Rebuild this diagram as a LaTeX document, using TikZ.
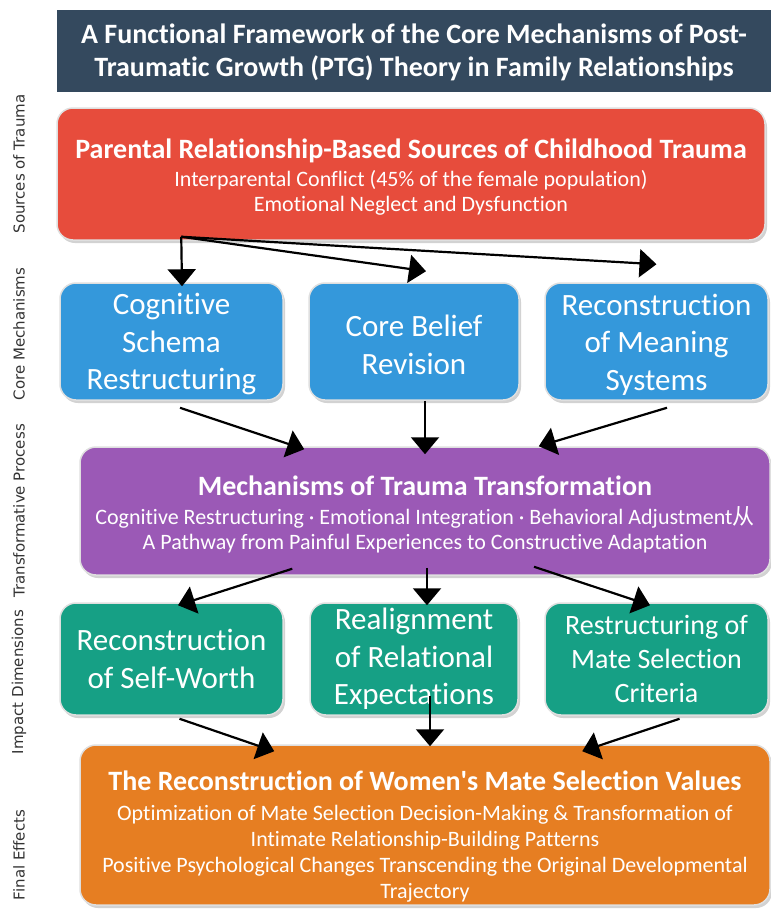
\documentclass[tikz,border=0pt]{standalone}
\usepackage{fontspec}
\setmainfont{Carlito}[Ligatures=NoCommon]
\newfontfamily\sidefont{DejaVu Sans}
\newfontfamily\cjk{Noto Sans CJK SC}
\usetikzlibrary{calc,shadows,arrows.meta}
\definecolor{ctitle}{HTML}{34495E}
\definecolor{cred}{HTML}{E74C3C}
\definecolor{cblue}{HTML}{3498DB}
\definecolor{cpurple}{HTML}{9B59B6}
\definecolor{cgreen}{HTML}{16A085}
\definecolor{corange}{HTML}{E67E22}
\newcommand{\hd}[1]{{\bfseries\fontsize{28}{30}\selectfont #1}}
\newcommand{\strt}[1]{\rule{0pt}{#1}}
\begin{document}
\begin{tikzpicture}[x=1pt,y=-1pt,
  box/.style={rounded corners=16pt, draw=gray!25, line width=1.5pt, text=white, align=center, inner sep=0pt,
    drop shadow={shadow xshift=2pt, shadow yshift=-3pt, opacity=0.35}},
  big/.style={box, font=\fontsize{22}{25}\selectfont},
  small/.style={box, minimum width=223pt, minimum height=117pt, font=\fontsize{31}{37.5}\selectfont},
  side/.style={rotate=90, font=\sidefont\fontsize{15}{17}\selectfont, text=black!80},
  arr/.style={line width=2.2pt, -{Triangle[length=17pt,width=28pt]}},
]
\useasboundingbox (0,0) rectangle (771,916);
\fill[white] (0,0) rectangle (771,916);

\node[fill=ctitle, text=white, minimum width=714pt, minimum height=82pt, inner sep=0pt, align=center,
  font=\bfseries\fontsize{28}{33}\selectfont] (title) at (414,51)
  {\strt{23pt}A Functional Framework of the Core Mechanisms of Post-\\Traumatic Growth (PTG) Theory in Family Relationships};

\node[big, fill=cred, minimum width=708pt, minimum height=132pt] (red) at (411,174)
  {\strt{25pt}\hd{Parental Relationship-Based Sources of Childhood Trauma}\\[3pt]
   Interparental Conflict (45\% of the female population)\\
   Emotional Neglect and Dysfunction};

\node[small, fill=cblue] (blue1) at (171.5,341.5) {\strt{27pt}Cognitive\\Schema\\Restructuring};
\node[small, fill=cblue, minimum width=210pt] (blue2) at (414,341.5) {\strt{28pt}Core Belief\\Revision};
\node[small, fill=cblue] (blue3) at (656.5,341.5) {\strt{27pt}Reconstruction\\of Meaning\\Systems};

\node[big, fill=cpurple, minimum width=690pt, minimum height=128pt] (purple) at (425,511)
  {\strt{27pt}\hd{Mechanisms of Trauma Transformation}\\[4pt]
   Cognitive Restructuring · Emotional Integration · Behavioral Adjustment{\cjk 从}\\
   A Pathway from Painful Experiences to Constructive Adaptation};

\node[small, fill=cgreen, minimum height=112pt] (green1) at (171.5,659) {Reconstruction\\of Self-Worth};
\node[small, fill=cgreen, minimum height=112pt, minimum width=208pt] (green2) at (414,659) {Realignment\\of Relational\\Expectations};
\node[small, fill=cgreen, minimum height=112pt, font=\fontsize{28}{34}\selectfont] (green3) at (656.5,659) {Restructuring of\\Mate Selection\\Criteria};

\node[big, fill=corange, minimum width=690pt, minimum height=160pt, font=\fontsize{22}{26}\selectfont] (orange) at (425,825)
  {\strt{42pt}\hd{The Reconstruction of Women\textquotesingle s Mate Selection Values}\\[4pt]
   Optimization of Mate Selection Decision-Making \& Transformation of\\
   Intimate Relationship-Building Patterns\\
   Positive Psychological Changes Transcending the Original Developmental\\
   Trajectory};

\node[side] (s1) at (19,164) {Sources of Trauma};
\node[side] (s2) at (19,334) {Core Mechanisms};
\node[side] (s3) at (19,511) {Transformative Process};
\node[side] (s4) at (19,682) {Impact Dimensions};
\node[side] (s5) at (19,855) {Final Effects};

\coordinate (rs) at ($(red.south west)+(125,-4)$);
\draw[arr] (rs) -- ($(blue1.north)+(10.5,4)$);
\draw[arr] (rs) -- ($(blue2.north)+(12,-11)$);
\draw[arr] (rs) -- ($(blue3.north)+(0,-18)$);

\draw[arr] ($(blue1.south)+(8.5,7)$) -- ($(purple.north west)+(225,3)$);
\draw[arr] ($(blue2.south)+(11,0)$) -- ($(purple.north)+(0,8)$);
\draw[arr] ($(blue3.south)+(10.5,7)$) -- ($(purple.north east)+(-232,0)$);

\draw[arr] ($(purple.south west)+(213,-7)$) -- ($(green1.north)+(6.5,3)$);
\draw[arr] ($(purple.south)+(2,-8)$) -- ($(green2.north)+(13,3)$);
\draw[arr] ($(purple.south)+(109,-9)$) -- ($(green3.north)+(-6.5,3)$);

\draw[arr] ($(green1.south)+(8,3)$) -- ($(orange.north west)+(195,7)$);
\draw[arr] ($(green2.south)+(16,-20)$) -- ($(orange.north)+(5,2)$);
\draw[arr] ($(green3.south)+(23,3)$) -- ($(orange.north west)+(503,7)$);
\end{tikzpicture}
\end{document}
